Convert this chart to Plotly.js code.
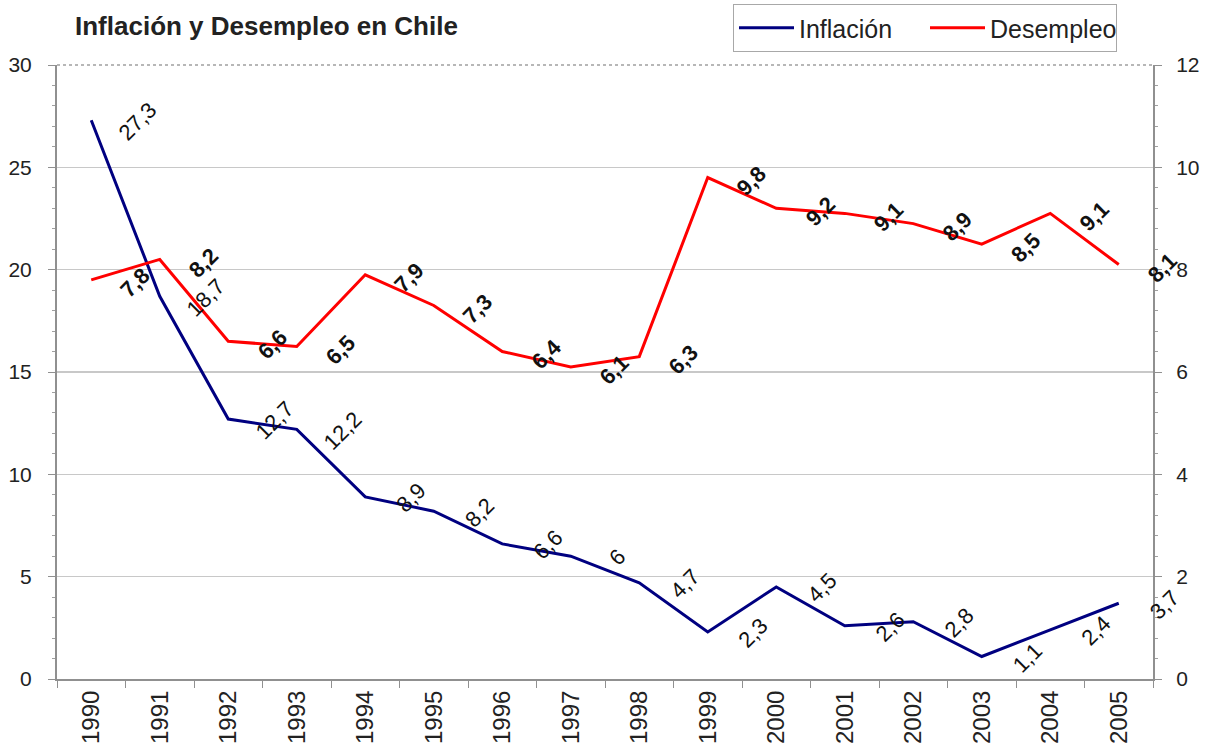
<!DOCTYPE html>
<html>
<head>
<meta charset="utf-8">
<script src="https://cdn.plot.ly/plotly-3.0.1.min.js"></script>
<style>
  html, body { margin: 0; padding: 0; background: #fff; }
  #chart { width: 1214px; height: 753px; }
</style>
</head>
<body>
<div id="chart"></div>
<script>
const years = ["1990","1991","1992","1993","1994","1995","1996","1997","1998","1999","2000","2001","2002","2003","2004","2005"];
const inflacion = [27.3, 18.7, 12.7, 12.2, 8.9, 8.2, 6.6, 6, 4.7, 2.3, 4.5, 2.6, 2.8, 1.1, 2.4, 3.7];
const desempleo = [7.8, 8.2, 6.6, 6.5, 7.9, 7.3, 6.4, 6.1, 6.3, 9.8, 9.2, 9.1, 8.9, 8.5, 9.1, 8.1];
const leftTicks = [0, 5, 10, 15, 20, 25, 30];
const rightTicks = [0, 2, 4, 6, 8, 10, 12];

const FONT = "Liberation Sans, Arial, sans-serif";
const fmt = v => String(v).replace('.', ',');

const traces = [
  { x: years, y: inflacion, type: 'scatter', mode: 'lines', name: 'Inflación',
    line: { color: '#000080', width: 3 }, yaxis: 'y' },
  { x: years, y: desempleo, type: 'scatter', mode: 'lines', name: 'Desempleo',
    line: { color: '#ff0000', width: 3 }, yaxis: 'y2' }
];

const annotations = [];
years.forEach((yr, i) => {
  annotations.push({ x: i, y: inflacion[i], xref: 'x', yref: 'y', text: fmt(inflacion[i]),
    showarrow: false, textangle: -45, xshift: 46, yshift: -1,
    font: { family: FONT, size: 22, color: '#111' } });
  annotations.push({ x: i, y: desempleo[i], xref: 'x', yref: 'y2', text: '<b>' + fmt(desempleo[i]) + '</b>',
    showarrow: false, textangle: -45, xshift: 44, yshift: -3,
    font: { family: FONT, size: 22, color: '#111' } });
});

const layout = {
  width: 1214, height: 753,
  margin: { l: 57, r: 61, t: 65, b: 74, pad: 0 },
  paper_bgcolor: '#fff', plot_bgcolor: '#fff',
  font: { family: FONT, size: 21, color: '#222' },
  title: { text: '<b>Inflación y Desempleo en Chile</b>', x: 75 / 1214, xanchor: 'left', xref: 'container',
    y: 1 - 26 / 753, yanchor: 'middle', yref: 'container',
    font: { family: FONT, size: 26, color: '#222' } },
  showlegend: true,
  legend: { orientation: 'h', xref: 'container', yref: 'container', x: 733 / 1214, xanchor: 'left',
    y: 1 - 4 / 753, yanchor: 'top',
    bordercolor: '#a8a8a8', borderwidth: 1, bgcolor: '#fff', itemwidth: 55, entrywidth: 121,
    font: { family: FONT, size: 25, color: '#222' } },
  xaxis: { type: 'category', range: [-0.5, years.length - 0.5], autorange: false,
    tickson: 'boundaries', ticks: 'outside', ticklen: 7, tickcolor: '#909090',
    showline: true, linecolor: '#909090', linewidth: 2, showgrid: false, tickangle: -90,
    tickfont: { family: FONT, size: 24, color: '#222' }, zeroline: false, fixedrange: true },
  yaxis: { range: [0, 30], autorange: false, tickvals: leftTicks, ticks: 'outside', ticklen: 7, tickcolor: '#909090',
    showline: true, linecolor: '#909090', linewidth: 2, showgrid: true, gridcolor: '#c8c8c8', gridwidth: 1.5,
    zeroline: false, tickfont: { family: FONT, size: 21, color: '#222' }, ticklabelstandoff: 12,
    minor: { dtick: 1, ticks: 'outside', ticklen: 3, tickcolor: '#a0a0a0', showgrid: false } },
  yaxis2: { range: [0, 12], autorange: false, tickvals: rightTicks, overlaying: 'y', side: 'right', ticks: 'outside', ticklen: 7,
    tickcolor: '#909090', showline: true, linecolor: '#909090', linewidth: 2, showgrid: false, zeroline: false,
    tickfont: { family: FONT, size: 21, color: '#222' }, ticklabelstandoff: 10,
    minor: { dtick: 0.4, ticks: 'outside', ticklen: 3, tickcolor: '#a0a0a0', showgrid: false } },
  shapes: [
    { type: 'line', xref: 'paper', yref: 'paper', x0: 0, x1: 1, y0: 1, y1: 1,
      line: { color: '#a0a0a0', width: 1.5, dash: 'dot' } }
  ],
  annotations: annotations
};

Plotly.newPlot('chart', traces, layout, { displayModeBar: false, staticPlot: true });
</script>
</body>
</html>
